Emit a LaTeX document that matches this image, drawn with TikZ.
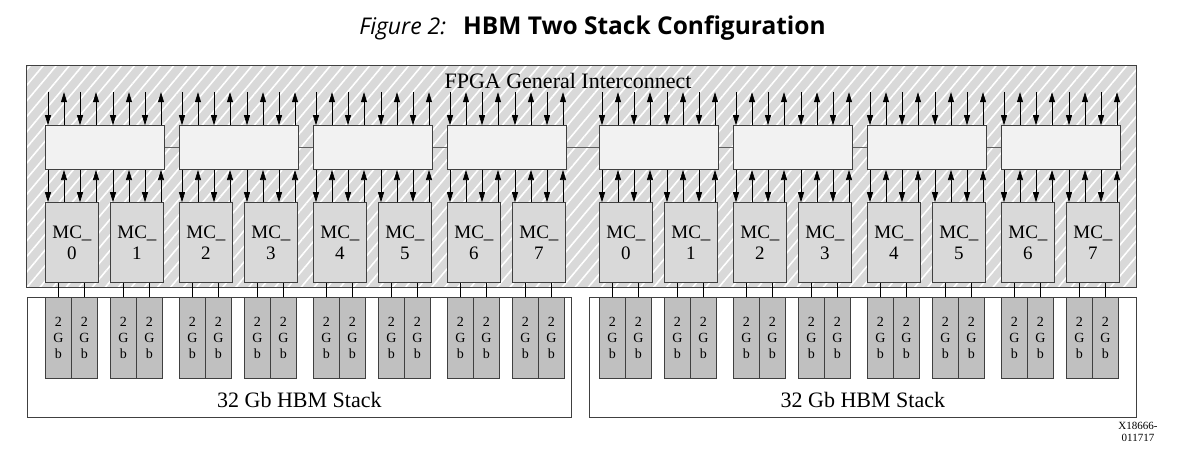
\documentclass[tikz,border=0pt]{standalone}
\usepackage{fontspec}
\setmainfont{Liberation Serif}
\newfontfamily\titlefont{Open Sans}
\usetikzlibrary{arrows.meta,patterns.meta}

\definecolor{edgegray}{HTML}{404040}
\definecolor{hatchgray}{HTML}{D9D9D9}
\definecolor{busfill}{HTML}{F2F2F2}
\definecolor{mcfill}{HTML}{D9D9D9}
\definecolor{memfill}{HTML}{C0C0C0}
\definecolor{linkgray}{HTML}{606060}

\tikzset{
  busbox/.style={draw=edgegray, fill=busfill, line width=0.8pt, minimum width=119pt, minimum height=44pt, inner sep=0pt, anchor=south west},
  mcbox/.style={draw=edgegray, fill=mcfill, line width=0.8pt, minimum width=53pt, minimum height=80pt, inner sep=0pt, anchor=south west, align=center, font=\fontsize{19}{21}\selectfont},
  membox/.style={draw=edgegray, fill=memfill, line width=0.8pt, minimum width=26pt, minimum height=81pt, inner sep=0pt, anchor=south west, align=center, font=\fontsize{14}{16}\selectfont},
  stackbox/.style={draw=edgegray, line width=0.8pt, inner sep=0pt, anchor=south west},
  arr/.style={-{Triangle[length=10pt,width=6pt]}, line width=0.7pt},
  link/.style={draw=linkgray, line width=1.4pt},
}

\begin{document}
\begin{tikzpicture}[x=1pt, y=1pt]
    \useasboundingbox (0,0) rectangle (1204,475);

    % Title
    \node[anchor=base] (title) at (592.5,440) {\titlefont{\fontsize{23}{28}\selectfont\itshape Figure 2:}\hspace{17pt}{\fontsize{24.5}{28}\selectfont\bfseries HBM Two Stack Configuration}};

    % FPGA general interconnect (hatched area)
    \fill[hatchgray] (26,188) rectangle (1136,410);
    \fill[pattern={Lines[angle=50,distance=10pt,line width=1.6pt]}, pattern color=white] (26,188) rectangle (1136,410);
    \draw[edgegray, line width=0.8pt] (26,188) rectangle (1136,410);
    \node[anchor=base, font=\fontsize{22}{24}\selectfont] (fpga) at (568,386) {FPGA General Interconnect};

    % HBM stacks
    \node[stackbox, minimum width=544pt, minimum height=120pt] (stackL) at (27,57) {};
    \node[stackbox, minimum width=547pt, minimum height=120pt] (stackR) at (589,57) {};
    \node[anchor=base, font=\fontsize{22}{24}\selectfont] (labelL) at (stackL.center |- 0,68) {32 Gb HBM Stack};
    \node[anchor=base, font=\fontsize{22}{24}\selectfont] (labelR) at (stackR.center |- 0,68) {32 Gb HBM Stack};

    % Switch boxes, memory controllers and 2 Gb channels
    \foreach \i in {0,...,7} {
        \pgfmathsetmacro{\xo}{45+134*mod(\i,4)+554*int(\i/4)}
        \pgfmathtruncatemacro{\na}{2*mod(\i,4)}
        \pgfmathtruncatemacro{\nb}{2*mod(\i,4)+1}
        \node[busbox] (bus\i) at (\xo,305) {};
        \node[mcbox] (mc\i a) at (\xo,192) {MC\_\\\na};
        \node[mcbox] (mc\i b) at (\xo+65,192) {MC\_\\\nb};
        \node[membox] (mem\i a1) at (\xo,96) {2\\G\\b};
        \node[membox] (mem\i a2) at (\xo+26,96) {2\\G\\b};
        \node[membox] (mem\i b1) at (\xo+65,96) {2\\G\\b};
        \node[membox] (mem\i b2) at (\xo+91,96) {2\\G\\b};
        \foreach \m in {a1,a2,b1,b2}
            \draw[line width=0.8pt] (mem\i\m.north |- mc\i a.south) -- (mem\i\m.north);
        % arrows in and out of the switch
        \foreach \d in {3,35,68,100} {
            \coordinate (in\i-\d) at ([xshift=\d pt, yshift=33pt]bus\i.north west);
            \draw[arr] (in\i-\d) -- (in\i-\d |- bus\i.north);
            \draw[arr] ([xshift=\d pt]bus\i.south west) -- ([xshift=\d pt]bus\i.south west |- mc\i a.north);
        }
        \foreach \d in {19,51,84,116} {
            \coordinate (out\i-\d) at ([xshift=\d pt, yshift=33pt]bus\i.north west);
            \draw[arr] (out\i-\d |- bus\i.north) -- (out\i-\d);
            \draw[arr] ([xshift=\d pt]bus\i.south west |- mc\i a.north) -- ([xshift=\d pt]bus\i.south west);
        }
    }

    % links between switches
    \foreach \i [evaluate=\i as \j using int(\i+1)] in {0,...,6}
        \draw[link] (bus\i.east) -- (bus\j.west);

    % figure number
    \node[align=center, font=\fontsize{11}{12}\selectfont] (fignum) at (1138,43.5) {X18666-\\011717};
\end{tikzpicture}
\end{document}
